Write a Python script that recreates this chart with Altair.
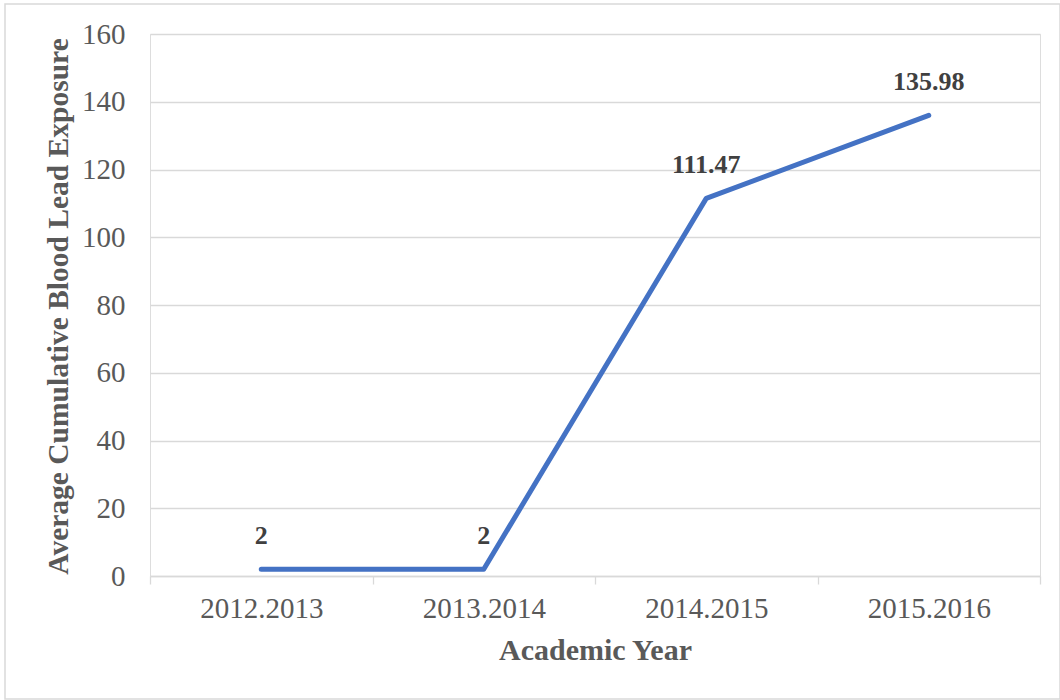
import altair as alt
import pandas as pd

# Academic years and average cumulative blood lead exposure
years = ["2012.2013", "2013.2014", "2014.2015", "2015.2016"]
exposure = [2, 2, 111.47, 135.98]
exposure_labels = ["2", "2", "111.47", "135.98"]

df = pd.DataFrame({"year": years, "value": exposure, "label": exposure_labels})

FONT = "Liberation Serif"
GRID = "#d9d9d9"
TEXT = "#595959"

x_enc = alt.X(
    "year:N",
    sort=years,
    scale=alt.Scale(paddingInner=0, paddingOuter=0),
    axis=alt.Axis(
        title="Academic Year",
        labelAngle=0,
        grid=False,
        tickBand="extent",
        tickSize=8,
        tickColor=GRID,
        tickWidth=1.3,
        domainColor=GRID,
        domainWidth=1.3,
        labelPadding=10,
        labelFontSize=29,
        labelColor=TEXT,
        labelFont=FONT,
        titleFont=FONT,
        titleFontSize=30,
        titleFontWeight="bold",
        titleColor=TEXT,
        titlePadding=12,
    ),
)

y_enc = alt.Y(
    "value:Q",
    scale=alt.Scale(domain=[0, 160], nice=False),
    axis=alt.Axis(
        title="Average Cumulative Blood Lead Exposure",
        values=[0, 20, 40, 60, 80, 100, 120, 140, 160],
        domain=False,
        ticks=False,
        gridColor=GRID,
        gridWidth=1.3,
        labelPadding=25,
        labelFontSize=29,
        labelColor=TEXT,
        labelFont=FONT,
        titleFont=FONT,
        titleFontSize=29.5,
        titleFontWeight="bold",
        titleColor=TEXT,
        titleX=-77,
        titleY=272,
        titleAngle=270,
        titleAlign="center",
        titleBaseline="bottom",
    ),
)

# Light frame around the whole figure
frame = alt.Chart(pd.DataFrame({"k": [0]})).mark_rect(
    fill=None, stroke=GRID, strokeWidth=1.5
).encode(
    x=alt.value(-145), x2=alt.value(910),
    y=alt.value(-30), y2=alt.value(665),
)

line = alt.Chart(df).mark_line(
    color="#4472C4", strokeWidth=5, strokeCap="round", strokeJoin="round"
).encode(x=x_enc, y=y_enc)

labels = alt.Chart(df).mark_text(
    font=FONT, fontSize=26, fontWeight="bold", color="#404040",
    dy=-33, baseline="middle", align="center",
).encode(x=alt.X("year:N", sort=years), y="value:Q", text="label:N")

chart = alt.layer(frame, line, labels).properties(
    width=890,
    height=542,
    autosize=alt.AutoSizeParams(type="none"),
    padding={"left": 150, "top": 34, "right": 20, "bottom": 124},
).configure_view(stroke=None).configure(background="white")

chart.save("out.html", embed_options={"renderer": "svg", "actions": False})
